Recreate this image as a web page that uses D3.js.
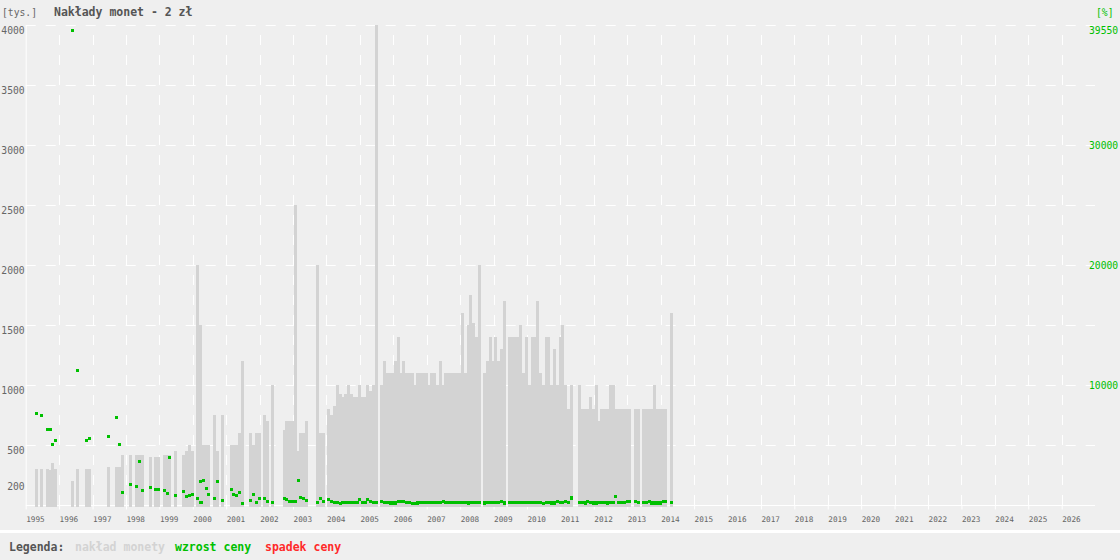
<!DOCTYPE html>
<html>
<head>
<meta charset="utf-8">
<script src="https://cdn.jsdelivr.net/npm/d3@7"></script>
<style>
  body { margin: 0; background: #efefef; }
  svg { display: block; font-family: "DejaVu Sans Mono", monospace; }
</style>
</head>
<body>
<div id="chart"></div>
<script>
/* Nakłady monet 2 zł - nakład (tys.) i wzrost ceny (%) */

const yearLabels = [1995, 1996, 1997, 1998, 1999, 2000, 2001, 2002, 2003, 2004, 2005,
    2006, 2007, 2008, 2009, 2010, 2011, 2012, 2013, 2014, 2015, 2016, 2017, 2018,
    2019, 2020, 2021, 2022, 2023, 2024, 2025, 2026];
const leftTicks = [200, 500, 1000, 1500, 2000, 2500, 3000, 3500, 4000];
const gridTicks = [500, 1000, 1500, 2000, 2500, 3000, 3500, 4000];
const rightTicks = [10000, 20000, 30000, 39550];

// data emisji (ułamek roku)
const issueYear = [
    1995.28, 1995.43, 1995.61, 1995.70, 1995.76, 1995.85,
    1996.36, 1996.51, 1996.77, 1996.86,
    1997.43, 1997.67, 1997.76, 1997.85,
    1998.09, 1998.27, 1998.36, 1998.45, 1998.69, 1998.84, 1998.93,
    1999.11, 1999.20, 1999.26, 1999.44, 1999.68, 1999.77, 1999.86, 1999.95,
    2000.10, 2000.19, 2000.20, 2000.28, 2000.37, 2000.42, 2000.60, 2000.69, 2000.84,
    2001.11, 2001.17, 2001.26, 2001.35, 2001.44, 2001.68, 2001.77, 2001.86, 2001.95,
    2002.10, 2002.19, 2002.34, 2002.70, 2002.76, 2002.85, 2002.94,
    2003.03, 2003.12, 2003.18, 2003.27, 2003.36, 2003.69, 2003.78, 2003.87,
    2004.02, 2004.11, 2004.20, 2004.28, 2004.37, 2004.43, 2004.52, 2004.61, 2004.70, 2004.79, 2004.88, 2004.94,
    2005.03, 2005.12, 2005.18, 2005.27, 2005.36, 2005.45, 2005.60, 2005.69, 2005.78, 2005.87, 2005.93,
    2006.02, 2006.11, 2006.20, 2006.26, 2006.35, 2006.44, 2006.53, 2006.62, 2006.68, 2006.77, 2006.86, 2006.95,
    2007.04, 2007.10, 2007.19, 2007.28, 2007.37, 2007.46, 2007.52, 2007.61, 2007.70, 2007.79, 2007.88, 2007.94,
    2008.03, 2008.11, 2008.20, 2008.26, 2008.35, 2008.44, 2008.53, 2008.68, 2008.77, 2008.86, 2008.95,
    2009.01, 2009.10, 2009.19, 2009.28, 2009.43, 2009.52, 2009.61, 2009.70, 2009.76, 2009.85, 2009.94,
    2010.03, 2010.12, 2010.18, 2010.27, 2010.36, 2010.45, 2010.54, 2010.60, 2010.69, 2010.78, 2010.87, 2010.96,
    2011.02, 2011.11, 2011.20, 2011.29, 2011.53, 2011.62, 2011.71, 2011.77, 2011.86, 2011.95,
    2012.03, 2012.12, 2012.18, 2012.27, 2012.36, 2012.45, 2012.54, 2012.60, 2012.69, 2012.78, 2012.87, 2012.96,
    2013.02, 2013.20, 2013.29, 2013.44, 2013.53, 2013.62, 2013.68, 2013.77, 2013.86, 2013.95,
    2014.04, 2014.10, 2014.28
];

// nakład monety [tys.]
const naklad = [
    300, 300, 300, 290, 350, 300,
    200, 300, 300, 300,
    315, 315, 315, 420,
    420, 420, 420, 420, 400, 400, 400,
    420, 420, 420, 450, 420, 450, 500, 450,
    2000, 1500, 500, 500, 500, 500, 750, 450, 750,
    500, 500, 500, 600, 1200, 600, 500, 600, 600,
    750, 700, 1000, 625, 700, 700, 700,
    2500, 450, 600, 600, 700, 2000, 600, 600,
    800, 750, 825, 1000, 925, 900, 925, 1000, 925, 900, 900, 1000,
    900, 900, 1000, 950, 1000, 4000, 1000, 1200, 1100, 1100, 1100,
    1200, 1400, 1100, 1200, 1100, 1100, 1100, 1000, 1100, 1100, 1100, 1100,
    1000, 1100, 1100, 1000, 1200, 1000, 1100, 1100, 1100, 1100, 1100, 1100,
    1600, 1100, 1500, 1750, 1520, 1400, 2000, 1100, 1200, 1400, 1200,
    1400, 1200, 1300, 1700, 1400, 1400, 1400, 1400, 1500, 1100, 1400,
    1000, 1400, 1400, 1700, 1100, 1000, 1400, 1400, 1000, 1300, 1000, 1400,
    1500, 1000, 800, 1000, 1000, 800, 800, 800, 900, 800,
    1000, 700, 800, 800, 800, 1000, 1000, 800, 800, 800, 800, 800,
    800, 800, 800, 800, 800, 800, 800, 1000, 800, 800,
    800, 800, 1600
];

// wzrost ceny [%]
const wzrost = [
    7640, 7470, 6300, 6300, 5060, 5390,
    39550, 11220, 5390, 5560,
    5720, 7310, 5060, 1060,
    1720, 1560, 3640, 1220, 1470, 1310, 1310,
    1220, 975, 3970, 810, 1140, 725, 810, 890,
    560, 1970, 220, 2050, 1390, 890, 560, 1970, 390,
    1310, 890, 810, 1060, 140, 390, 890, 220, 560,
    560, 310, 220, 560, 475, 310, 310,
    310, 2060, 640, 560, 390, 220, 560, 310,
    500, 330, 250, 250, 125, 250, 250, 200, 250, 200, 250, 500,
    200, 200, 500, 330, 200, 200, 330, 200, 200, 170, 170,
    170, 300, 300, 300, 200, 200, 150, 150, 170, 200, 250, 250,
    200, 200, 200, 250, 250, 330, 200, 200, 200, 200, 200, 200,
    200, 200, 170, 250, 250, 200, 200, 170, 250, 250, 200,
    200, 200, 330, 170, 200, 200, 200, 200, 200, 200, 200,
    200, 200, 250, 200, 200, 150, 200, 200, 170, 170, 330, 200,
    200, 330, 200, 600, 250, 250, 170, 330, 200, 170,
    170, 200, 200, 250, 170, 200, 200, 700, 200, 200, 200, 330,
    330, 330, 200, 250, 200, 330, 170, 170, 170, 170,
    330, 330, 250
];

const width = 1120,
      height = 560,
      plot = ({ left: 25.7, right: 1095, top: 25, bottom: 505 });

const coins = issueYear.map((t, i) => ({ t: t, n: naklad[i], g: wzrost[i] }));

let svg = d3.select("#chart")
    .append("svg")
    .attr("width", width)
    .attr("height", height);

let x = d3.scaleLinear()
    .domain([1995, 2027])
    .range([plot.left, 1095.1]);

let y = d3.scaleLinear()
    .domain([0, 4000])
    .range([plot.bottom, plot.top]);

let yR = d3.scaleLinear() // prawa oś w procentach
    .domain([0, 40000])
    .range([plot.bottom, plot.top]);

/* siatka */
svg.append("g")
    .selectAll("line")
    .data(gridTicks)
    .join("line")
    .attr("x1", plot.left)
    .attr("x2", plot.right)
    .attr("y1", d => Math.round(y(d)) + 0.5)
    .attr("y2", d => Math.round(y(d)) + 0.5)
    .attr("stroke", "#fff")
    .attr("stroke-dasharray", "10,10");

svg.append("g")
    .selectAll("line")
    .data(yearLabels.slice(1))
    .join("line")
    .attr("x1", d => Math.round(x(d)) + 0.5)
    .attr("x2", d => Math.round(x(d)) + 0.5)
    .attr("y1", plot.bottom)
    .attr("y2", plot.top)
    .attr("stroke", "#fff")
    .attr("stroke-dasharray", "10,10");

/* osie */
let xAxis = svg.append("g")
    .attr("transform", `translate(0,${plot.bottom + 0.5})`)
    .call(d3.axisBottom(x).tickValues(yearLabels).tickFormat(d3.format("d")).tickSize(4).tickSizeOuter(0));
xAxis.select(".domain").attr("stroke", "#fff").attr("d", `M${plot.left},0H${plot.right}`);
xAxis.selectAll(".tick line").attr("stroke", "#fff");
xAxis.selectAll(".tick text")
    .attr("y", 16)
    .attr("dy", 0)
    .attr("text-anchor", "start")
    .attr("fill", "#666")
    .style("font-size", "7.7px")
    .style("font-family", "DejaVu Sans Mono, monospace");

let yAxis = svg.append("g")
    .attr("transform", `translate(${plot.left},0)`)
    .call(d3.axisLeft(y).tickValues(leftTicks).tickFormat(d3.format("d")).tickSize(0).tickSizeOuter(0).tickPadding(1));
yAxis.select(".domain").attr("stroke", "#fff");
yAxis.selectAll(".tick text")
    .attr("y", 8)
    .attr("dy", 0)
    .attr("fill", "#666")
    .style("font-size", "9.7px")
    .style("font-family", "DejaVu Sans Mono, monospace");

let yAxisR = svg.append("g")
    .attr("transform", "translate(1089,0)")
    .call(d3.axisRight(yR).tickValues(rightTicks).tickFormat(d3.format("d")).tickSize(0).tickPadding(0));
yAxisR.select(".domain").remove();
yAxisR.selectAll(".tick text")
    .attr("fill", "#00c000")
    .style("font-size", "9.7px")
    .style("font-family", "DejaVu Sans Mono, monospace");

/* słupki nakładu */
svg.append("g")
    .selectAll("rect")
    .data(coins)
    .join("rect")
    .attr("x", d => x(d.t))
    .attr("width", 3)
    .attr("y", d => y(d.n))
    .attr("height", d => y(0) - y(d.n) + 2)
    .attr("fill", "#d3d3d3")
    .attr("shape-rendering", "crispEdges");

/* punkty wzrostu ceny */
svg.append("g")
    .selectAll("rect")
    .data(coins)
    .join("rect")
    .attr("x", d => x(d.t))
    .attr("y", d => yR(d.g) - 1.5)
    .attr("width", 3.2)
    .attr("height", 3.2)
    .attr("fill", "#00c000")
    .attr("shape-rendering", "crispEdges");

/* nagłówek */
svg.append("text")
    .attr("x", 2).attr("y", 15.5)
    .attr("fill", "#666")
    .style("font-size", "9.7px")
    .text("[tys.]");

svg.append("text")
    .attr("x", 54).attr("y", 16)
    .attr("fill", "#555")
    .style("font-size", "11.5px")
    .style("font-weight", "bold")
    .text("Nakłady monet - 2 zł");

svg.append("text")
    .attr("x", 1096).attr("y", 15.5)
    .attr("fill", "#00c000")
    .style("font-size", "9.7px")
    .text("[%]");

/* legenda */
svg.append("line")
    .attr("x1", 0).attr("x2", width)
    .attr("y1", 531.5).attr("y2", 531.5)
    .attr("stroke", "#fff")
    .attr("stroke-width", 3);

const legend = [
    { label: "Legenda:", color: "#555", x: 9 },
    { label: "nakład monety", color: "#d3d3d3", x: 75 },
    { label: "wzrost ceny", color: "#00c000", x: 175 },
    { label: "spadek ceny", color: "#ff2a2a", x: 265 }
];

svg.append("g")
    .selectAll("text")
    .data(legend)
    .join("text")
    .attr("x", d => d.x)
    .attr("y", 551)
    .attr("fill", d => d.color)
    .style("font-size", "11.5px")
    .style("font-weight", "bold")
    .text(d => d.label);
</script>
</body>
</html>
